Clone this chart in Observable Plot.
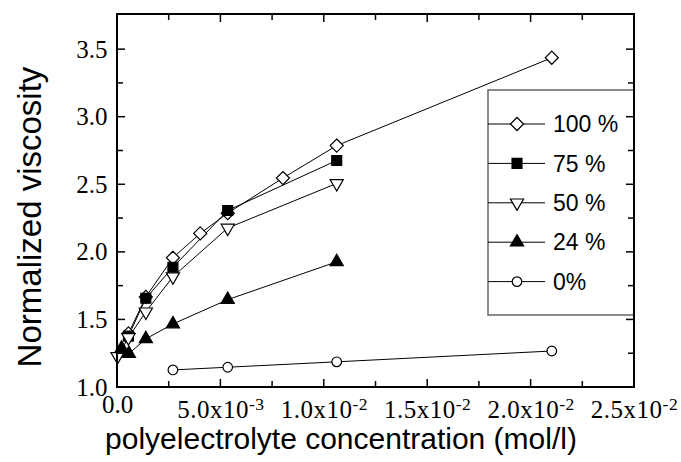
<!DOCTYPE html>
<html><head><meta charset="utf-8">
<script src="https://cdn.jsdelivr.net/npm/d3@7"></script>
<script src="https://cdn.jsdelivr.net/npm/@observablehq/plot@0.6"></script>
<style>
body{margin:0;background:#fff}
#chart{width:681px;height:462px}
</style>
</head><body><div id="chart"></div>
<script>
// ---- data ----
const seriesNames = ["100 %", "75 %", "50 %", "24 %", "0%"];
const conc100 = [0.00053, 0.00137, 0.00268, 0.0040, 0.00533, 0.0080, 0.0106, 0.0210];
const visc100 = [1.40, 1.67, 1.96, 2.14, 2.29, 2.55, 2.79, 3.44];
const conc75 = [0.00053, 0.00137, 0.00268, 0.00533, 0.0106];
const visc75 = [1.38, 1.66, 1.89, 2.31, 2.68];
const conc50 = [0.0, 0.00053, 0.00137, 0.00268, 0.00533, 0.0106];
const visc50 = [1.23, 1.37, 1.56, 1.82, 2.18, 2.51];
const conc24 = [0.0002, 0.00055, 0.00137, 0.00268, 0.00533, 0.0106];
const visc24 = [1.29, 1.25, 1.36, 1.47, 1.65, 1.93];
const conc0 = [0.00268, 0.00533, 0.0106, 0.0210];
const visc0 = [1.13, 1.15, 1.19, 1.27];

const xTicks = [0, 0.005, 0.01, 0.015, 0.02, 0.025];
const xTickLabels = ["0.0", "5.0x10^-3", "1.0x10^-2", "1.5x10^-2", "2.0x10^-2", "2.5x10^-2"];
const xMinorTicks = [0.0025, 0.0075, 0.0125, 0.0175, 0.0225];
const yTicks = [1.0, 1.5, 2.0, 2.5, 3.0, 3.5];
const yTickLabels = ["1.0", "1.5", "2.0", "2.5", "3.0", "3.5"];
const yMinorTicks = [1.25, 1.75, 2.25, 2.75, 3.25];
const xTitle = "polyelectrolyte concentration (mol/l)";
const yTitle = "Normalized viscosity";

// ---- table ----
const concs = [conc100, conc75, conc50, conc24, conc0];
const viscs = [visc100, visc75, visc50, visc24, visc0];
const rows = [];
seriesNames.forEach((s, k) => concs[k].forEach((c, i) => rows.push({series: s, x: c, y: viscs[k][i]})));

const markerStyle = {
  "100 %": {symbol: "diamond2", fill: "white", r: 5.9, rotate: 0, d3s: d3.symbolDiamond2},
  "75 %": {symbol: "square", fill: "black", r: 5.6, rotate: 0, d3s: d3.symbolSquare},
  "50 %": {symbol: "triangle", fill: "white", r: 4.9, rotate: 180, d3s: d3.symbolTriangle},
  "24 %": {symbol: "triangle", fill: "black", r: 4.9, rotate: 0, d3s: d3.symbolTriangle},
  "0%": {symbol: "circle", fill: "white", r: 4.8, rotate: 0, d3s: d3.symbolCircle}
};

const W = 681, H = 462;
const mL = 117, mR = 47, mT = 14, mB = 75;
const majorLen = 8, minorLen = 6;

const marks = [
  Plot.line(rows, {x: "x", y: "y", z: "series", stroke: "black", strokeWidth: 1})
];
seriesNames.forEach(s => {
  const st = markerStyle[s];
  marks.push(Plot.dot(rows.filter(d => d.series === s), {
    x: "x", y: "y", symbol: st.symbol, fill: st.fill, stroke: "black",
    strokeWidth: 1.2, r: st.r, rotate: st.rotate
  }));
});
marks.push(
  // tick labels
  Plot.axisX(xTicks, {anchor: "bottom", tickSize: 0, tickPadding: 8, stroke: "none", fill: "black",
    label: null, tickFormat: d => xTickLabels[xTicks.indexOf(d)],
    fontFamily: "Liberation Serif", fontSize: 25}),
  Plot.axisY(yTicks, {anchor: "left", tickSize: 0, tickPadding: 10, stroke: "none", fill: "black",
    label: null, tickFormat: d => yTickLabels[yTicks.indexOf(d)],
    fontFamily: "Liberation Serif", fontSize: 25}),
  // axis titles
  Plot.text([yTitle], {text: d => d, frameAnchor: "left", textAnchor: "middle", rotate: -90, dx: -87, dy: 16,
    fontFamily: "Liberation Sans", fontSize: 33, fill: "black"}),
  Plot.text([xTitle], {text: d => d, frameAnchor: "bottom", textAnchor: "middle", dx: -35, dy: 61,
    fontFamily: "Liberation Sans", fontSize: 30, fill: "black"})
);

const plot = Plot.plot({
  width: W, height: H,
  marginLeft: mL, marginRight: mR, marginTop: mT, marginBottom: mB,
  x: {domain: [0, 0.025]},
  y: {domain: [1, 3.76]},
  style: {background: "white", color: "black", fontFamily: "Liberation Serif", fontSize: "25px", overflow: "visible"},
  marks
});
document.getElementById("chart").appendChild(plot);
const svg = d3.select(plot);

// superscripts on x tick labels
svg.selectAll('g[aria-label="x-axis tick label"] text').each(function() {
  const t = this.textContent;
  if (t.includes("^")) {
    const [base, sup] = t.split("^");
    const sel = d3.select(this);
    sel.text(base).attr("letter-spacing", "0.5px");
    sel.append("tspan").attr("dy", "-0.5em").attr("font-size", "0.7em").text(sup);
    sel.attr("dy", "0.2em");
  }
});

// legend (inside the frame, top-right)
const lg = svg.append("g").attr("class", "legend").attr("text-anchor", "start");
const bx0 = 488, bx1 = W - mR, by0 = 90, by1 = 315;
lg.append("rect").attr("x", bx0).attr("y", by0).attr("width", bx1 - bx0).attr("height", by1 - by0)
  .attr("fill", "white").attr("stroke", "#666").attr("stroke-width", 1.5);
seriesNames.forEach((s, i) => {
  const st = markerStyle[s];
  const yy = 124 + i * 39.4;
  lg.append("line").attr("x1", bx0).attr("x2", 545).attr("y1", yy).attr("y2", yy)
    .attr("stroke", "black").attr("stroke-width", 1);
  lg.append("path").attr("d", d3.symbol(st.d3s, Math.PI * st.r * st.r)())
    .attr("transform", `translate(517,${yy}) rotate(${st.rotate})`)
    .attr("fill", st.fill).attr("stroke", "black").attr("stroke-width", 1.2);
  lg.append("text").attr("x", 553).attr("y", yy).attr("dy", "0.36em").attr("text-anchor", "start")
    .attr("font-family", "Liberation Sans").attr("font-size", 23).attr("fill", "black").text(s);
});

// inward ticks on all four sides, placed with the plot's own scales, then the frame on top
const sx = plot.scale("x"), sy = plot.scale("y");
const x0 = mL, x1 = W - mR, y0 = mT, y1 = H - mB;
const tg = svg.append("g").attr("class", "ticks").attr("stroke", "black").attr("stroke-width", 1.5);
function xt(vals, len) {
  vals.forEach(v => {
    const px = sx.apply(v);
    tg.append("line").attr("x1", px).attr("x2", px).attr("y1", y1).attr("y2", y1 - len);
    tg.append("line").attr("x1", px).attr("x2", px).attr("y1", y0).attr("y2", y0 + len);
  });
}
function yt(vals, len) {
  vals.forEach(v => {
    const py = sy.apply(v);
    tg.append("line").attr("x1", x0).attr("x2", x0 + len).attr("y1", py).attr("y2", py);
    tg.append("line").attr("x1", x1).attr("x2", x1 - len).attr("y1", py).attr("y2", py);
  });
}
xt(xTicks, majorLen); xt(xMinorTicks, minorLen);
yt(yTicks, majorLen); yt(yMinorTicks, minorLen);
svg.append("rect").attr("x", x0).attr("y", y0).attr("width", x1 - x0).attr("height", y1 - y0)
  .attr("fill", "none").attr("stroke", "black").attr("stroke-width", 2);
</script>
</body></html>
